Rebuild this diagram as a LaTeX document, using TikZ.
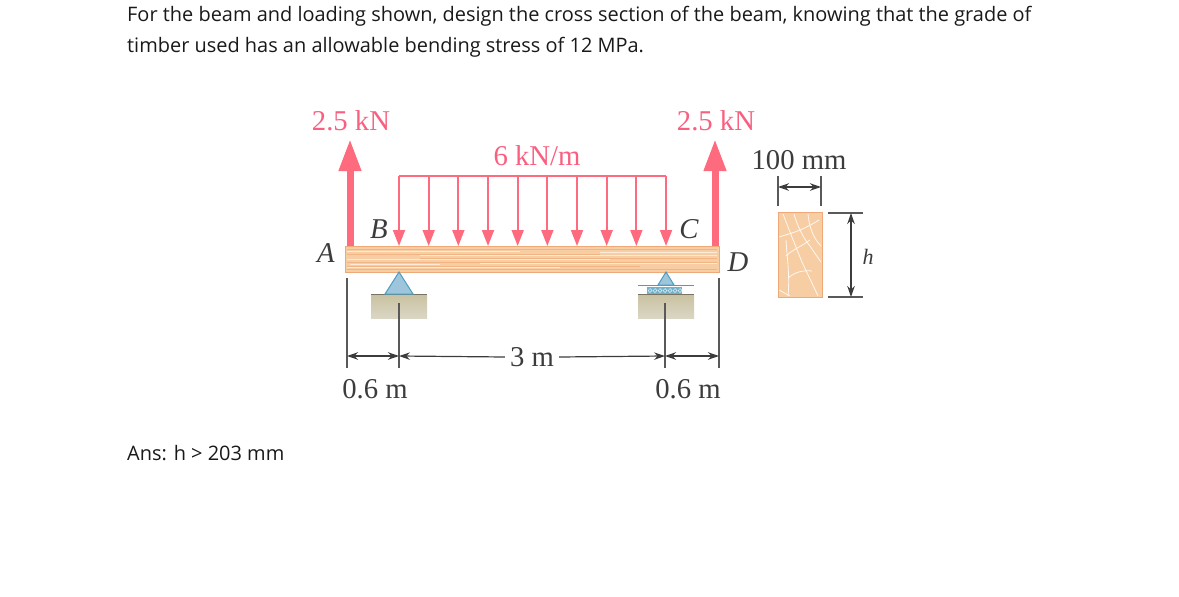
\documentclass[tikz,border=0pt]{standalone}
\usepackage{fontspec}
\usetikzlibrary{arrows.meta}
\setmainfont{Liberation Serif}
\newfontfamily\promptfont{Open Sans}
\definecolor{loadPink}{HTML}{FF6B7E}
\definecolor{labelPink}{HTML}{F9607F}
\definecolor{woodFill}{HTML}{F7CDA4}
\definecolor{woodEdge}{HTML}{EFA878}
\definecolor{woodDark}{HTML}{F2B482}
\definecolor{baseBlue}{HTML}{9DC6DC}
\definecolor{edgeBlue}{HTML}{4C9DBE}
\definecolor{dimGrey}{HTML}{3C3C3C}
\definecolor{groundTop}{HTML}{C9C2A2}
\definecolor{groundLow}{HTML}{DAD6C4}
\newcommand{\diagramFont}[0]{\fontsize{28.7}{30}\selectfont}
\tikzset{
  prompt/.style={anchor=west,inner sep=0pt,font=\promptfont\fontsize{19.95}{22}\selectfont,text=black!90},
  loadLabel/.style={inner sep=0pt,font=\diagramFont,text=labelPink},
  dimLabel/.style={inner sep=0pt,font=\diagramFont,text=dimGrey},
  pointLabel/.style={inner sep=0pt,font=\diagramFont\itshape,text=dimGrey},
  bigLoad/.style={draw=loadPink,line width=7pt,-{Triangle[length=32pt,width=21pt,fill=loadPink]}},
  smallLoad/.style={draw=loadPink,line width=1.8pt,-{Triangle[length=16pt,width=12pt,fill=loadPink]}},
  extLine/.style={draw=dimGrey!85,line width=1.5pt},
  dimLine/.style={draw=dimGrey,line width=1.2pt,{Stealth[length=11pt,width=7.5pt]}-{Stealth[length=11pt,width=7.5pt]}},
  dimEnd/.style={draw=dimGrey,line width=1.2pt,-{Stealth[length=11pt,width=7.5pt]}},
  ground/.style={inner sep=0pt,minimum width=56pt,minimum height=23pt,top color=groundTop,bottom color=groundLow},
  grain/.style={draw=white!60!woodFill,line width=.7pt},
  grainDark/.style={draw=woodDark,line width=.9pt},
  crack/.style={draw=white!85!woodFill,line width=.8pt}
}
\begin{document}
\begin{tikzpicture}[x=1pt,y=-1pt]
  \useasboundingbox (0,0) rectangle (1179,597);
  \node[prompt] (Line-1) at (127,16) {For the beam and loading shown, design the cross section of the beam, knowing that the grade of};
  \node[prompt] (Line-2) at (127,47.5) {timber used has an allowable bending stress of 12 MPa.};
  \node[prompt] (Answer) at (127,453) {Ans: h > 203 mm};

  % beam
  \node[draw=woodEdge,fill=woodFill,line width=.8pt,inner sep=0pt,minimum width=374pt,minimum height=26pt] (Beam) at (532,259) {};
  \foreach \y/\a/\b in {249/347/717,254/347/600,258/420/717,262/347/717,266/347/640,269/347/717}
    \draw[grainDark] (\a,\y) -- (\b,\y);
  \foreach \y/\a/\b in {251/347/520,255/420/717,259/347/610,263/480/717,267/347/560,252/600/717,264/350/440}
    \draw[grain] (\a,\y) -- (\b,\y);

  % supports
  \node[ground] (Ground-B) at (399,306.5) {};
  \node[ground] (Ground-C) at (666,306.5) {};
  \draw[draw=groundTop!60!black,line width=1pt] (Ground-B.north west) -- (Ground-B.north east);
  \draw[draw=groundTop!60!black,line width=1pt] (Ground-C.north west) -- (Ground-C.north east);
  \draw[edgeBlue,fill=baseBlue,line width=1pt] (399,272) -- (385,294) -- (413,294) -- cycle;
  \draw[edgeBlue,fill=baseBlue,line width=1pt] (666,272) -- (658,285) -- (674,285) -- cycle;
  \draw[edgeBlue,line width=1pt] (638,285) -- (694,285);
  \fill[edgeBlue!80] (647,287) rectangle (682,294);
  \foreach \x in {650,655,...,680}
    \draw[white!75!baseBlue,line width=.5pt] (\x,290.5) circle (1.9pt);

  % loads
  \coordinate (A-foot) at (350,246);
  \coordinate (A-tip) at (350,139);
  \coordinate (D-foot) at (715,246);
  \coordinate (D-tip) at (715,139);
  \draw[bigLoad] (A-foot) -- (A-tip);
  \draw[bigLoad] (D-foot) -- (D-tip);
  \coordinate (Top-1) at (399,176);
  \coordinate (Top-2) at (666,176);
  \draw[loadPink,line width=1.6pt] (Top-1) -- (Top-2);
  \foreach \i in {0,...,9}{
    \coordinate (Top-\i) at (399+29.67*\i,176);
    \coordinate (Foot-\i) at (399+29.67*\i,246);
    \draw[smallLoad] (Top-\i) -- (Foot-\i);
  }
  \node[loadLabel] (Load-A) at (351,121) {2.5 kN};
  \node[loadLabel] (Load-D) at (716,121) {2.5 kN};
  \node[loadLabel] (Load-W) at (537,156) {6 kN/m};
  \node[pointLabel] (A) at (326,253) {A};
  \node[pointLabel] (B) at (379,229) {B};
  \node[pointLabel] (C) at (689,229) {C};
  \node[pointLabel] (D) at (738,262) {D};

  % dimensions
  \coordinate (Ext-A) at (347,278);
  \coordinate (Ext-A-2) at (347,368);
  \coordinate (Ext-B) at (399,303);
  \coordinate (Ext-B-2) at (399,368);
  \coordinate (Ext-C) at (665,303);
  \coordinate (Ext-C-2) at (665,368);
  \coordinate (Ext-D) at (719,278);
  \coordinate (Ext-D-2) at (719,368);
  \draw[extLine] (Ext-A) -- (Ext-A-2);
  \draw[extLine] (Ext-B) -- (Ext-B-2);
  \draw[extLine] (Ext-C) -- (Ext-C-2);
  \draw[extLine] (Ext-D) -- (Ext-D-2);
  \node[dimLabel,fill=white,inner xsep=5pt] (Span) at (532,357) {3 m};
  \coordinate (Dim-A) at (347,356);
  \coordinate (Dim-B) at (399,356);
  \coordinate (Dim-C) at (665,356);
  \coordinate (Dim-D) at (719,356);
  \draw[dimLine] (Dim-A) -- (Dim-B);
  \draw[dimEnd] (Span.west) -- (Dim-B);
  \draw[dimEnd] (Span.east) -- (Dim-C);
  \draw[dimLine] (Dim-C) -- (Dim-D);
  \node[dimLabel] (Left-gap) at (375,389) {0.6 m};
  \node[dimLabel] (Right-gap) at (688,389) {0.6 m};

  % cross section
  \node[draw=woodEdge,fill=woodFill,line width=.8pt,inner sep=0pt,minimum width=44pt,minimum height=85pt] (Section) at (800,255) {};
  \draw[crack] (783,214) .. controls (790,232) and (795,245) .. (802,262) .. controls (808,275) and (813,285) .. (818,296);
  \draw[crack] (794,214) .. controls (797,225) and (803,238) .. (810,246) .. controls (814,252) and (818,258) .. (821,262);
  \draw[crack] (808,214) .. controls (809,226) and (813,238) .. (821,246);
  \draw[crack] (779,237) .. controls (788,234) and (800,232) .. (819,220);
  \draw[crack] (786,256) .. controls (792,250) and (802,246) .. (810,240);
  \draw[crack] (786,240) .. controls (787,258) and (790,275) .. (788,296);
  \draw[crack] (788,278) .. controls (795,272) and (803,270) .. (812,271);
  \draw[crack] (779,290) -- (790,296);
  \coordinate (Width-1) at (778,176);
  \coordinate (Width-1-b) at (778,206);
  \coordinate (Width-2) at (821,176);
  \coordinate (Width-2-b) at (821,206);
  \draw[extLine] (Width-1) -- (Width-1-b);
  \draw[extLine] (Width-2) -- (Width-2-b);
  \coordinate (Dim-W1) at (778,187);
  \coordinate (Dim-W2) at (821,187);
  \draw[dimLine] (Dim-W1) -- (Dim-W2);
  \node[dimLabel] (Width) at (799,160) {100 mm};
  \coordinate (Height-1) at (828,213);
  \coordinate (Height-1-b) at (863,213);
  \coordinate (Height-2) at (828,297);
  \coordinate (Height-2-b) at (863,297);
  \draw[extLine] (Height-1) -- (Height-1-b);
  \draw[extLine] (Height-2) -- (Height-2-b);
  \coordinate (Dim-H1) at (851,213);
  \coordinate (Dim-H2) at (851,297);
  \draw[dimLine] (Dim-H1) -- (Dim-H2);
  \node[pointLabel,font=\fontsize{22}{24}\selectfont\itshape] (Height) at (868,257) {h};
\end{tikzpicture}
\end{document}
